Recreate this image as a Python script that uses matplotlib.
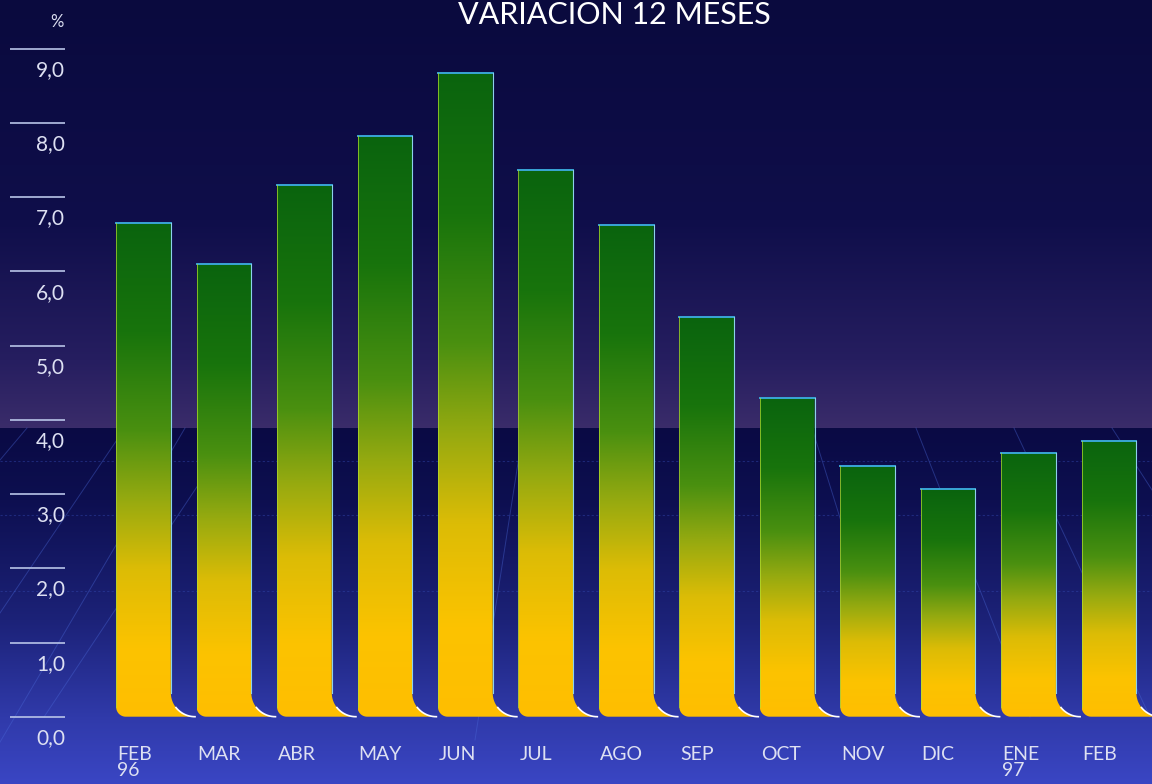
import numpy as np
import matplotlib.pyplot as plt
from matplotlib.colors import LinearSegmentedColormap
from matplotlib.patches import Polygon

plt.rcParams['font.family'] = ['Lato', 'DejaVu Sans']

TITLE = "VARIACION 12 MESES"
months = ["FEB\n96", "MAR", "ABR", "MAY", "JUN", "JUL", "AGO",
          "SEP", "OCT", "NOV", "DIC", "ENE\n97", "FEB"]
values = [6.65, 6.10, 7.16, 7.83, 8.68, 7.37, 6.62,
          5.39, 4.30, 3.38, 3.07, 3.56, 3.72]
yticks = [0, 1, 2, 3, 4, 5, 6, 7, 8, 9]
ytick_labels = ["0,0", "1,0", "2,0", "3,0", "4,0", "5,0",
                "6,0", "7,0", "8,0", "9,0"]

W, H = 1152, 784
TXT = '#dde0f2'


def bg_image():
    # vertical colour ramp: dark navy -> purple (upper wall), navy -> blue (floor)
    rows = np.arange(H)
    top_y = [0, 220, 360, 427]
    top_c = np.array([[10, 10, 62], [15, 14, 74], [38, 30, 96], [58, 44, 106]])
    bot_y = [428, 500, 620, 717, 784]
    bot_c = np.array([[10, 10, 68], [13, 15, 80], [28, 34, 120], [48, 58, 170], [58, 70, 196]])
    img = np.zeros((H, 1, 3))
    for k in range(3):
        col = np.where(rows < 428,
                       np.interp(rows, top_y, top_c[:, k]),
                       np.interp(rows, bot_y, bot_c[:, k]))
        img[:, 0, k] = col / 255
    return np.repeat(img, 4, axis=1)


fig = plt.figure(figsize=(W / 100, H / 100), dpi=100)

# background + floor grid, in pixel coordinates
bg = fig.add_axes([0, 0, 1, 1])
bg.imshow(bg_image(), extent=(0, W, H, 0), aspect='auto', zorder=0)
bg.set_xlim(0, W)
bg.set_ylim(H, 0)
bg.axis('off')
for yy in [461, 515, 591]:
    bg.plot([0, W], [yy, yy], color='#3448b0', lw=0.8, ls=(0, (2, 2)), alpha=0.45)
diag = [((0, 613), (125, 428)), ((-40, 810), (185, 428)), ((44, 717), (236, 428)),
        ((0, 460), (27, 428)), ((475, 740), (520, 450)),
        ((812, 428), (902, 717)), ((916, 428), (1030, 717)),
        ((1014, 428), (1150, 717)), ((1112, 428), (1152, 490))]
for (x0, y0), (x1, y1) in diag:
    bg.plot([x0, x1], [y0, y1], color='#4a68d8', lw=0.7, alpha=0.4)

# main axes: data coordinates
ax = fig.add_axes([0, 0, 1, 1])
ax.patch.set_alpha(0)
ax.axis('off')
xmin, xmax = -1.7835, 12.534
ymin, ymax = -0.907, 9.659

cmap = LinearSegmentedColormap.from_list('bar', [
    (0.00, '#ffbe00'), (0.14, '#fcc300'), (0.30, '#dcbc06'),
    (0.44, '#96aa10'), (0.58, '#4a9010'), (0.78, '#18740c'), (1.00, '#0a640e')])

w = 0.68
rx, ry = 0.12, 0.13
fw, fy = 0.30, 0.32
t = np.linspace(0, np.pi / 2, 20)
for i, h in enumerate(values):
    xl, xr = i - w / 2, i + w / 2
    fil_x = xr + fw - fw * np.cos(t)
    fil_y = fy - fy * np.sin(t)
    cor_x = xl + rx - rx * np.sin(t)
    cor_y = ry - ry * np.cos(t)
    pts = ([(xl, h), (xr, h)] + list(zip(fil_x, fil_y))
           + list(zip(cor_x, cor_y)) + [(xl, ry)])
    poly = Polygon(pts, closed=True, facecolor='none', edgecolor='none', zorder=2)
    ax.add_patch(poly)
    grad = np.linspace(0, 1, 256).reshape(-1, 1)
    im = ax.imshow(grad, cmap=cmap, extent=(xl, xr + fw, 0, h), origin='lower',
                   aspect='auto', zorder=2, interpolation='bilinear')
    im.set_clip_path(poly)
    ax.plot([xl, xr], [h, h], color='#3aa6d6', lw=1.4, zorder=3)
    ax.plot([xr, xr], [h, fy], color='#8cd2ea', lw=0.8, zorder=3)
    ax.plot([xl, xl], [h, ry], color='#b6e030', lw=0.7, alpha=0.7, zorder=3)
    ax.plot(fil_x[8:], fil_y[8:], color='white', lw=1.2, zorder=3)
    ax.text(xl + 0.01, -0.39, months[i], ha='left', va='top', fontsize=14,
            color=TXT, linespacing=0.95)

# y scale: short lines with labels beneath
lx0, lx1 = -1.66, -0.976
ax.hlines(yticks, lx0, lx1, color='#b8c4e8', lw=1.2)
for v, lab in zip(yticks, ytick_labels):
    ax.text(lx1, v - 0.285, lab, ha='right', va='center', fontsize=15, color=TXT)
ax.text(lx1 - 0.02, 9.36, '%', ha='right', va='center', fontsize=12, color=TXT)

ax.set_xlim(xmin, xmax)
ax.set_ylim(ymin, ymax)

fig.text(614 / W, 1 - 15 / H, TITLE, ha='center', va='center', fontsize=22, color='white')

fig.savefig('out.png', dpi=100)
